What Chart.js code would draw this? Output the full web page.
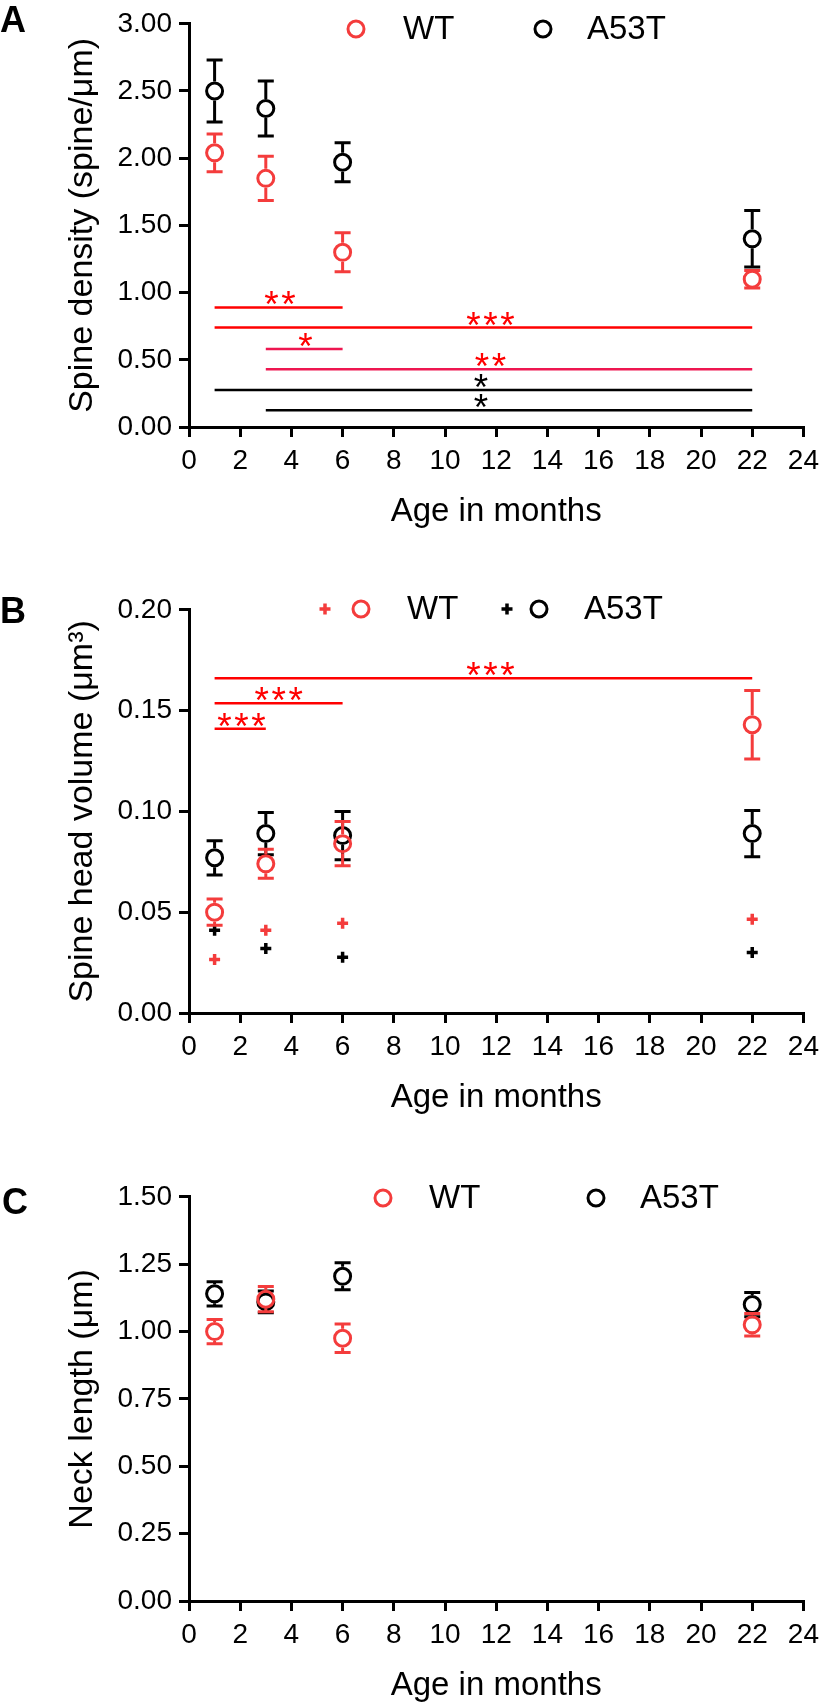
<!DOCTYPE html>
<html>
<head>
<meta charset="utf-8">
<script src="https://cdn.jsdelivr.net/npm/chart.js@4.4.1/dist/chart.umd.min.js"></script>
<style>
html, body { margin: 0; padding: 0; background: #ffffff; }
canvas { display: block; }
</style>
</head>
<body>
<canvas id="panelA" width="826" height="586"></canvas>
<canvas id="panelB" width="826" height="587"></canvas>
<canvas id="panelC" width="826" height="532"></canvas>
<script>
// ---------------- DATA ----------------
const ages = [1, 3, 6, 22];
const seriesNames = ['WT', 'A53T'];
const xTickValues = [0, 2, 4, 6, 8, 10, 12, 14, 16, 18, 20, 22, 24];
const xTickLabels = ['0', '2', '4', '6', '8', '10', '12', '14', '16', '18', '20', '22', '24'];

// Panel A: spine density
const yTicksA = [0, 0.5, 1, 1.5, 2, 2.5, 3];
const yTickLabelsA = ['0.00', '0.50', '1.00', '1.50', '2.00', '2.50', '3.00'];
const densityWT = [2.04, 1.85, 1.30, 1.10];
const densityWTsem = [0.14, 0.165, 0.145, 0.065];
const densityA53T = [2.50, 2.37, 1.97, 1.40];
const densityA53Tsem = [0.23, 0.205, 0.145, 0.21];
const sigAFrom = [1, 1, 3, 3, 1, 3];
const sigATo = [6, 22, 6, 22, 22, 22];
const sigALevel = [0.89, 0.74, 0.58, 0.43, 0.275, 0.125];
const sigALabel = ['**', '***', '*', '**', '*', '*'];
const sigAStarAt = [3.55, 11.77, 4.55, 11.77, 11.4, 11.4];

// Panel B: spine head volume
const yTicksB = [0, 0.05, 0.1, 0.15, 0.2];
const yTickLabelsB = ['0.00', '0.05', '0.10', '0.15', '0.20'];
const headWT = [0.050, 0.074, 0.084, 0.143];
const headWTsem = [0.0065, 0.0072, 0.011, 0.017];
const headA53T = [0.077, 0.089, 0.088, 0.089];
const headA53Tsem = [0.0085, 0.0105, 0.012, 0.0115];
const headWTplus = [0.0265, 0.041, 0.0445, 0.0465];
const headA53Tplus = [0.041, 0.032, 0.0277, 0.030];
const sigBFrom = [1, 1, 1];
const sigBTo = [22, 6, 3];
const sigBLevel = [0.166, 0.1537, 0.141];
const sigBLabel = ['***', '***', '***'];
const sigBStarAt = [11.77, 3.5, 2.05];

// Panel C: neck length
const yTicksC = [0, 0.25, 0.5, 0.75, 1, 1.25, 1.5];
const yTickLabelsC = ['0.00', '0.25', '0.50', '0.75', '1.00', '1.25', '1.50'];
const neckWT = [1.00, 1.12, 0.975, 1.025];
const neckWTsem = [0.045, 0.047, 0.053, 0.042];
const neckA53T = [1.14, 1.11, 1.205, 1.10];
const neckA53Tsem = [0.045, 0.04, 0.05, 0.045];

// ---------------- STYLE ----------------
const FONT = "'Liberation Sans', Arial, Helvetica, sans-serif";
const RED = '#f43c3c';
const BLACK = '#000000';
const SIG_COLORS_A = ['#ff0000', '#ff0000', '#ee1650', '#ee1650', '#000000', '#000000'];
const SIG_COLORS_B = ['#ff0000', '#ff0000', '#ff0000'];
const STAR_COLORS_A = ['#ff0000', '#ff0000', '#ff0000', '#ff0000', '#000000', '#000000'];
const STAR_COLORS_B = ['#ff0000', '#ff0000', '#ff0000'];
const SERIES_COLORS = [RED, BLACK];
const POINT_R = 8, POINT_BW = 3, CAP_W = 16, ERR_LW = 3;
const STAR_SIZE = 37, STAR_PITCH = 17, STAR_LIFT = 9;
const TICK_SIZE = 28, LEGEND_SIZE = 33, XTITLE_SIZE = 33, YTITLE_SIZE = 34;

function pts(ys) { return ages.map((a, i) => ({ x: a, y: ys[i] })); }

// Error bars drawn just before each dataset's own points
const errorBarPlugin = {
  id: 'errorBars',
  beforeDatasetDraw(chart, args) {
    const ds = chart.data.datasets[args.index];
    if (!ds.errors) return;
    const { ctx, scales: { x, y } } = chart;
    const r = POINT_R + POINT_BW / 2;
    ctx.save();
    ctx.strokeStyle = ds.borderColor;
    ctx.lineWidth = ERR_LW;
    ctx.lineCap = 'butt';
    ds.data.forEach((p, i) => {
      const e = ds.errors[i];
      const px = x.getPixelForValue(p.x);
      const py = y.getPixelForValue(p.y);
      const top = y.getPixelForValue(p.y + e);
      const bot = y.getPixelForValue(p.y - e);
      ctx.beginPath();
      if (top < py - r) { ctx.moveTo(px, py - r); ctx.lineTo(px, top); }
      if (bot > py + r) { ctx.moveTo(px, py + r); ctx.lineTo(px, bot); }
      ctx.moveTo(px - CAP_W / 2, top); ctx.lineTo(px + CAP_W / 2, top);
      ctx.moveTo(px - CAP_W / 2, bot); ctx.lineTo(px + CAP_W / 2, bot);
      ctx.stroke();
    });
    ctx.restore();
  }
};

function drawMarker(ctx, style, x, y, color) {
  ctx.save();
  ctx.strokeStyle = color;
  if (style === 'circle') {
    ctx.lineWidth = POINT_BW;
    ctx.beginPath(); ctx.arc(x, y, POINT_R, 0, Math.PI * 2); ctx.stroke();
  } else {
    ctx.lineWidth = 3.5;
    ctx.beginPath();
    ctx.moveTo(x - 5.5, y); ctx.lineTo(x + 5.5, y);
    ctx.moveTo(x, y - 5.5); ctx.lineTo(x, y + 5.5);
    ctx.stroke();
  }
  ctx.restore();
}

function drawStars(ctx, text, cx, cy, color) {
  ctx.save();
  ctx.font = STAR_SIZE + 'px ' + FONT;
  ctx.fillStyle = color;
  ctx.textAlign = 'center';
  ctx.textBaseline = 'alphabetic';
  const m = ctx.measureText('*');
  const base = cy + (m.actualBoundingBoxAscent - m.actualBoundingBoxDescent) / 2;
  const n = text.length;
  for (let i = 0; i < n; i++) {
    ctx.fillText('*', cx + (i - (n - 1) / 2) * STAR_PITCH, base);
  }
  ctx.restore();
}

// Legend, significance stars and panel letter
const decorPlugin = {
  id: 'decor',
  afterDraw(chart, args, opts) {
    const { ctx, scales: { x, y } } = chart;
    chart.data.datasets.forEach(ds => {
      if (!ds.stars) return;
      const cx = x.getPixelForValue(ds.starAt);
      const cy = y.getPixelForValue(ds.data[0].y) - STAR_LIFT;
      drawStars(ctx, ds.stars, cx, cy, ds.starColor);
    });
    opts.legend.forEach(item => {
      item.markers.forEach(mk => drawMarker(ctx, mk.style, mk.x, opts.legendY, SERIES_COLORS[item.series]));
      ctx.save();
      ctx.font = LEGEND_SIZE + 'px ' + FONT;
      ctx.fillStyle = '#000';
      ctx.textAlign = 'left';
      ctx.textBaseline = 'middle';
      ctx.fillText(seriesNames[item.series], item.textX, opts.legendY + 1);
      ctx.restore();
    });
    ctx.save();
    ctx.font = 'bold 36px ' + FONT;
    ctx.fillStyle = '#000';
    ctx.textAlign = 'left';
    ctx.textBaseline = 'alphabetic';
    ctx.fillText(opts.letter, opts.letterX, opts.letterY);
    ctx.restore();
  }
};

function buildPanel(id, cfg) {
  const datasets = [];
  datasets.push({
    label: seriesNames[0], data: pts(cfg.wt), errors: cfg.wtErr,
    borderColor: RED, backgroundColor: 'rgba(0,0,0,0)',
    pointStyle: 'circle', pointRadius: POINT_R, pointBorderWidth: POINT_BW,
    pointBackgroundColor: 'rgba(0,0,0,0)', showLine: false
  });
  datasets.push({
    label: seriesNames[1], data: pts(cfg.mut), errors: cfg.mutErr,
    borderColor: BLACK, backgroundColor: 'rgba(0,0,0,0)',
    pointStyle: 'circle', pointRadius: POINT_R, pointBorderWidth: POINT_BW,
    pointBackgroundColor: 'rgba(0,0,0,0)', showLine: false
  });
  if (cfg.wtPlus) {
    datasets.push({
      label: seriesNames[0] + ' +', data: pts(cfg.wtPlus), borderColor: RED,
      pointStyle: 'cross', pointRadius: 5.5, pointBorderWidth: 3.5, showLine: false
    });
    datasets.push({
      label: seriesNames[1] + ' +', data: pts(cfg.mutPlus), borderColor: BLACK,
      pointStyle: 'cross', pointRadius: 5.5, pointBorderWidth: 3.5, showLine: false
    });
  }
  (cfg.sigFrom || []).forEach((f, i) => {
    datasets.push({
      label: 'sig' + i,
      data: [{ x: f, y: cfg.sigLevel[i] }, { x: cfg.sigTo[i], y: cfg.sigLevel[i] }],
      borderColor: cfg.sigColors[i], borderWidth: 2.5, pointRadius: 0,
      showLine: true, fill: false,
      stars: cfg.sigLabel[i], starAt: cfg.sigStarAt[i], starColor: cfg.starColors[i]
    });
  });

  const H = cfg.H;
  return new Chart(document.getElementById(id), {
    type: 'scatter',
    data: { datasets },
    options: {
      responsive: false, animation: false, events: [],
      layout: { padding: { left: 0, right: 19, top: 17, bottom: 0 } },
      plugins: {
        legend: { display: false }, tooltip: { enabled: false },
        decor: { legend: cfg.legend, legendY: cfg.legendY, letter: cfg.letter, letterX: cfg.letterX, letterY: cfg.letterY }
      },
      scales: {
        x: {
          type: 'linear', min: 0, max: 24,
          afterBuildTicks: s => { s.ticks = xTickValues.map(v => ({ value: v })); },
          afterFit: s => { s.height = H - cfg.bottom; },
          ticks: { callback: (v, i) => xTickLabels[i], font: { family: FONT, size: TICK_SIZE }, color: '#000', padding: 7, maxRotation: 0, autoSkip: false },
          grid: { display: true, drawOnChartArea: false, drawTicks: true, tickLength: 10, lineWidth: 3, color: '#000' },
          border: { display: true, width: 3, color: '#000' },
          title: { display: true, text: 'Age in months', font: { family: FONT, size: XTITLE_SIZE }, color: '#000', padding: { top: 0, bottom: cfg.xTitlePad } }
        },
        y: {
          type: 'linear', min: cfg.yTicks[0], max: cfg.yTicks[cfg.yTicks.length - 1],
          afterBuildTicks: s => { s.ticks = cfg.yTicks.map(v => ({ value: v })); },
          afterFit: s => { s.width = 189; },
          ticks: { callback: (v, i) => cfg.yTickLabels[i], font: { family: FONT, size: TICK_SIZE }, color: '#000', padding: 7, autoSkip: false },
          grid: { display: true, drawOnChartArea: false, drawTicks: true, tickLength: 10, lineWidth: 3, color: '#000' },
          border: { display: true, width: 3, color: '#000' },
          title: { display: true, text: cfg.yTitle, font: { family: FONT, size: YTITLE_SIZE }, color: '#000', padding: { top: 62, bottom: 0 } }
        }
      }
    },
    plugins: [errorBarPlugin, decorPlugin]
  });
}

buildPanel('panelA', {
  H: 586, bottom: 427, xTitlePad: 54,
  yTicks: yTicksA, yTickLabels: yTickLabelsA, yTitle: 'Spine density (spine/\u03bcm)',
  wt: densityWT, wtErr: densityWTsem, mut: densityA53T, mutErr: densityA53Tsem,
  sigFrom: sigAFrom, sigTo: sigATo, sigLevel: sigALevel, sigLabel: sigALabel, sigStarAt: sigAStarAt,
  sigColors: SIG_COLORS_A, starColors: STAR_COLORS_A,
  legendY: 29,
  legend: [
    { series: 0, markers: [{ style: 'circle', x: 356 }], textX: 403 },
    { series: 1, markers: [{ style: 'circle', x: 543 }], textX: 587 }
  ],
  letter: 'A', letterX: 0, letterY: 32
});

buildPanel('panelB', {
  H: 587, bottom: 427, xTitlePad: 55,
  yTicks: yTicksB, yTickLabels: yTickLabelsB, yTitle: 'Spine head volume (\u03bcm\u00b3)',
  wt: headWT, wtErr: headWTsem, mut: headA53T, mutErr: headA53Tsem,
  wtPlus: headWTplus, mutPlus: headA53Tplus,
  sigFrom: sigBFrom, sigTo: sigBTo, sigLevel: sigBLevel, sigLabel: sigBLabel, sigStarAt: sigBStarAt,
  sigColors: SIG_COLORS_B, starColors: STAR_COLORS_B,
  legendY: 23,
  legend: [
    { series: 0, markers: [{ style: 'cross', x: 325 }, { style: 'circle', x: 361 }], textX: 407 },
    { series: 1, markers: [{ style: 'cross', x: 507 }, { style: 'circle', x: 539 }], textX: 584 }
  ],
  letter: 'B', letterX: 0, letterY: 37
});

buildPanel('panelC', {
  H: 532, bottom: 428, xTitlePad: -1,
  yTicks: yTicksC, yTickLabels: yTickLabelsC, yTitle: 'Neck length (\u03bcm)',
  wt: neckWT, wtErr: neckWTsem, mut: neckA53T, mutErr: neckA53Tsem,
  legendY: 25,
  legend: [
    { series: 0, markers: [{ style: 'circle', x: 383 }], textX: 429 },
    { series: 1, markers: [{ style: 'circle', x: 596 }], textX: 640 }
  ],
  letter: 'C', letterX: 2, letterY: 41
});
</script>
</body>
</html>
